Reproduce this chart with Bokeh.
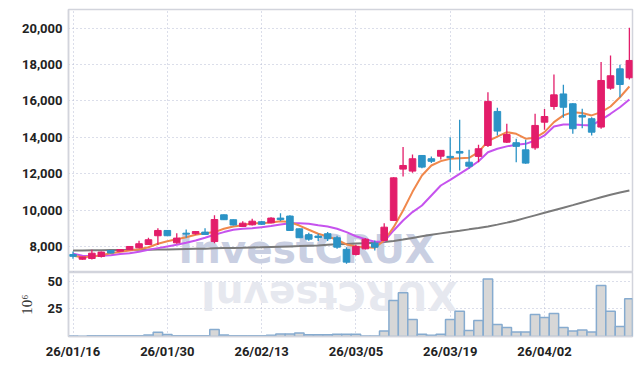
from bokeh.plotting import figure
from bokeh.layouts import column
from bokeh.models import ColumnDataSource, Range1d, FixedTicker, NumeralTickFormatter, Label
from bokeh.embed import file_html
from bokeh.resources import INLINE
import numpy as np

# ---------------- data ----------------
dates = [
    "26/01/16", "26/01/19", "26/01/20", "26/01/21", "26/01/22", "26/01/23",
    "26/01/26", "26/01/27", "26/01/28", "26/01/29", "26/01/30",
    "26/02/02", "26/02/03", "26/02/04", "26/02/05", "26/02/06",
    "26/02/09", "26/02/10", "26/02/11", "26/02/12", "26/02/13",
    "26/02/19", "26/02/20", "26/02/23", "26/02/24", "26/02/25", "26/02/26", "26/02/27",
    "26/03/03", "26/03/04", "26/03/05", "26/03/06",
    "26/03/09", "26/03/10", "26/03/11", "26/03/12", "26/03/13",
    "26/03/16", "26/03/17", "26/03/18", "26/03/19", "26/03/20",
    "26/03/23", "26/03/24", "26/03/25", "26/03/26", "26/03/27",
    "26/03/30", "26/03/31", "26/04/01", "26/04/02", "26/04/03",
    "26/04/06", "26/04/07", "26/04/08", "26/04/09", "26/04/10",
    "26/04/13", "26/04/14", "26/04/15",
]

open_ = [7560, 7300, 7340, 7450, 7780, 7740, 7820, 7930, 8110, 8590,
         8880, 8200, 8730, 8700, 8790, 8270, 9740, 9470, 9100, 9190,
         9360, 9300, 9560, 9670, 8970, 8650, 8570, 8700, 8480, 7840,
         7560, 7870, 8180, 8330, 9430, 12250, 12140, 13000, 12820, 12960,
         12950, 13220, 12630, 12950, 13550, 15420, 13730, 13700, 13310, 13420,
         14830, 15690, 16380, 15840, 15200, 15020, 14560, 16700, 17760, 17270]
high = [7720, 7440, 7820, 7720, 7800, 7850, 8010, 8310, 8480, 9000,
        8900, 8730, 8930, 8850, 9000, 9720, 9760, 9480, 9390, 9520,
        9400, 9600, 9830, 9720, 8990, 8760, 8700, 8790, 8590, 7960,
        8100, 8450, 8330, 9280, 11800, 13460, 13060, 13020, 12950, 13300,
        14000, 14960, 13310, 13590, 16480, 15620, 14740, 13920, 13860, 15290,
        15560, 17450, 16880, 15870, 15570, 15100, 18130, 18490, 17980, 20020]
low = [7330, 7270, 7290, 7400, 7620, 7720, 7800, 7900, 8080, 8080,
       8580, 8150, 8480, 8650, 8640, 8180, 9450, 9150, 9080, 9150,
       9180, 9280, 9400, 8850, 8460, 8320, 8300, 8300, 7870, 7050,
       7500, 7830, 7780, 8300, 9400, 11850, 12050, 12300, 12580, 12780,
       12080, 12180, 12270, 12630, 13460, 14100, 13680, 12630, 12540, 13310,
       14410, 15510, 15070, 14190, 14500, 14100, 14470, 16610, 16200, 17180]
close = [7460, 7420, 7630, 7690, 7640, 7830, 8000, 8150, 8370, 8880,
         8590, 8460, 8680, 8820, 8660, 9480, 9470, 9180, 9280, 9390,
         9220, 9560, 9480, 8880, 8480, 8400, 8490, 8430, 7960, 7140,
         8000, 8400, 7960, 9060, 11770, 12450, 12820, 12360, 12680, 13280,
         12880, 13130, 12410, 13370, 15970, 14340, 14150, 13500, 12580, 14650,
         15140, 16330, 15650, 14470, 15110, 14280, 17120, 17380, 16900, 18220]

# volume, in millions of shares
volume = [0.5, 0.2, 0.7, 0.7, 0.7, 0.7, 0.7, 0.7, 1.3, 3.8,
          1.8, 0.7, 0.7, 0.7, 0.7, 6.4, 1.3, 0.6, 0.6, 0.6,
          0.6, 1.2, 2.2, 2.2, 3.1, 1.5, 1.5, 1.5, 2.0, 2.0,
          2.0, 0.4, 0.4, 4.9, 32.7, 39.6, 15.4, 2.0, 1.2, 2.0,
          15.4, 22.9, 5.5, 14.5, 52.2, 10.9, 8.2, 4.0, 4.0, 19.9,
          17.2, 20.8, 8.2, 4.9, 5.8, 4.0, 46.2, 22.9, 9.1, 34.3]

ma5 = [7490, 7410, 7450, 7520, 7630, 7710, 7780, 7850, 7960, 8150,
       8290, 8400, 8510, 8640, 8730, 8790, 8970, 9100, 9170, 9280,
       9280, 9320, 9390, 9340, 9150, 8920, 8700, 8550, 8370, 8110,
       8000, 7960, 7930, 8330, 9060, 9980, 11000, 11900, 12450, 12690,
       12820, 12850, 12870, 13180, 13790, 14040, 14280, 14190, 13920, 13970,
       14280, 14830, 15200, 15380, 15330, 15200, 15380, 15690, 16200, 16790]
ma10 = [7600, 7490, 7470, 7490, 7520, 7580, 7630, 7710, 7820, 7910,
        8000, 8090, 8200, 8330, 8480, 8640, 8790, 8920, 8970, 9000,
        9060, 9120, 9210, 9280, 9280, 9250, 9170, 9100, 8970, 8790,
        8560, 8400, 8260, 8280, 8880, 9430, 9890, 10250, 10800, 11350,
        11660, 11990, 12320, 12680, 13180, 13370, 13500, 13590, 13640, 13820,
        14100, 14590, 14700, 14700, 14670, 14650, 14960, 15290, 15650, 16080]
ma60 = [7780, 7785, 7790, 7795, 7800, 7805, 7810, 7815, 7820, 7830,
        7840, 7850, 7860, 7870, 7880, 7900, 7910, 7920, 7930, 7945,
        7960, 7975, 7990, 8005, 8020, 8040, 8060, 8090, 8120, 8140,
        8160, 8180, 8200, 8240, 8300, 8380, 8470, 8560, 8650, 8720,
        8790, 8860, 8940, 9010, 9100, 9200, 9310, 9430, 9570, 9710,
        9850, 9990, 10130, 10270, 10420, 10560, 10700, 10840, 10960, 11080]

price_ticks = [8000, 10000, 12000, 14000, 16000, 18000, 20000]
volume_ticks = [25, 50]
date_ticks = [0, 10, 20, 30, 40, 50]

# ---------------- styling ----------------
UP = "#e31d6a"
DOWN = "#2b93c6"
GRID = "#b7bdd5"
FRAME = "#d2d4dc"
LABEL_FONT = "Roboto"

idx = list(range(len(dates)))
src = ColumnDataSource(dict(
    x=idx, high=high, low=low,
    top=[max(o, c) for o, c in zip(open_, close)],
    bottom=[min(o, c) for o, c in zip(open_, close)],
    color=[UP if c >= o else DOWN for o, c in zip(open_, close)],
    vol=volume, ma5=ma5, ma10=ma10, ma60=ma60,
))

x_lo, x_hi = -0.48, 59.33
x_range = Range1d(x_lo, x_hi)
y_lo, y_hi = 6570, 21020
v_lo, v_hi = 0, 58

p1 = figure(width=634, height=272, x_range=x_range, y_range=Range1d(y_lo, y_hi),
            x_axis_location=None, output_backend="svg", toolbar_location=None,
            min_border_left=68, min_border_right=2, min_border_top=9, min_border_bottom=0)
p2 = figure(width=634, height=89, x_range=x_range, y_range=Range1d(v_lo, v_hi),
            output_backend="svg", toolbar_location=None,
            min_border_left=68, min_border_right=2, min_border_top=0, min_border_bottom=24)

for p in (p1, p2):
    p.outline_line_color = FRAME
    p.outline_line_width = 1.5
    p.background_fill_color = "white"
    p.border_fill_color = "white"
    for g in (p.xgrid, p.ygrid):
        g.grid_line_color = GRID
        g.grid_line_dash = "1 3"
        g.grid_line_width = 1
    p.xgrid.ticker = FixedTicker(ticks=date_ticks)
    for ax in (p.yaxis, p.xaxis):
        ax.axis_line_color = FRAME
        ax.axis_line_width = 1.5
        ax.major_tick_line_color = None
        ax.minor_tick_line_color = None
        ax.major_tick_out = 0
        ax.major_tick_in = 0
        ax.major_label_text_font = LABEL_FONT
        ax.major_label_text_font_style = "bold"
        ax.major_label_text_font_size = "13px"
        ax.major_label_text_color = "#222222"
        ax.major_label_standoff = 6

p1.yaxis.ticker = FixedTicker(ticks=price_ticks)
p1.yaxis.formatter = NumeralTickFormatter(format="0,0")

p2.yaxis.ticker = FixedTicker(ticks=volume_ticks)
p2.yaxis.axis_label = "10⁶"
p2.yaxis.axis_label_text_font = "Liberation Serif"
p2.yaxis.axis_label_text_font_style = "normal"
p2.yaxis.axis_label_text_font_size = "15px"
p2.yaxis.axis_label_text_color = "#333333"
p2.yaxis.axis_label_standoff = 10
p2.xaxis.ticker = FixedTicker(ticks=date_ticks)
p2.xaxis.major_label_overrides = {i: dates[i] for i in date_ticks}
p2.xaxis.major_label_standoff = 7

# watermark (decoration) placed by fractions of the frames, kept inside the canvases
wm_x = x_lo + (178 - 68) / 564 * (x_hi - x_lo)
wm_y = y_lo + 1.0 / 263 * (y_hi - y_lo)
p1.add_layout(Label(x=wm_x, y=wm_y, text="InvestCRUX", text_font="DejaVu Sans",
                    text_font_style="bold", text_font_size="39px", text_color="#c9cfe2",
                    text_align="left", text_baseline="bottom", level="underlay"))
rf_x = x_lo + (457 - 68) / 564 * (x_hi - x_lo)
rf_y = v_hi - 1.0 / 65 * (v_hi - v_lo)
p2.add_layout(Label(x=rf_x, y=rf_y, text="XURCtsevnI", text_font="DejaVu Sans",
                    text_font_style="bold", text_font_size="39px", text_color="#e6e8ef",
                    angle=np.pi, text_align="left", text_baseline="bottom", level="underlay"))

# moving averages
p1.line("x", "ma60", source=src, line_color="#7a7a7a", line_width=2)
p1.line("x", "ma10", source=src, line_color="#c653ee", line_width=2)
p1.line("x", "ma5", source=src, line_color="#f0884c", line_width=2)

# candles
p1.segment(x0="x", y0="low", x1="x", y1="high", source=src, line_color="color", line_width=1.3)
p1.vbar(x="x", top="top", bottom="bottom", width=0.7, source=src,
        fill_color="color", line_color="color", line_width=1)

# volume
p2.vbar(x="x", top="vol", bottom=0, width=1.0, source=src,
        fill_color="#d7d7d7", line_color="#86abcf", line_width=1.5)

layout = column(p1, p2, spacing=0)
open("out.html", "w").write(file_html(layout, INLINE))
